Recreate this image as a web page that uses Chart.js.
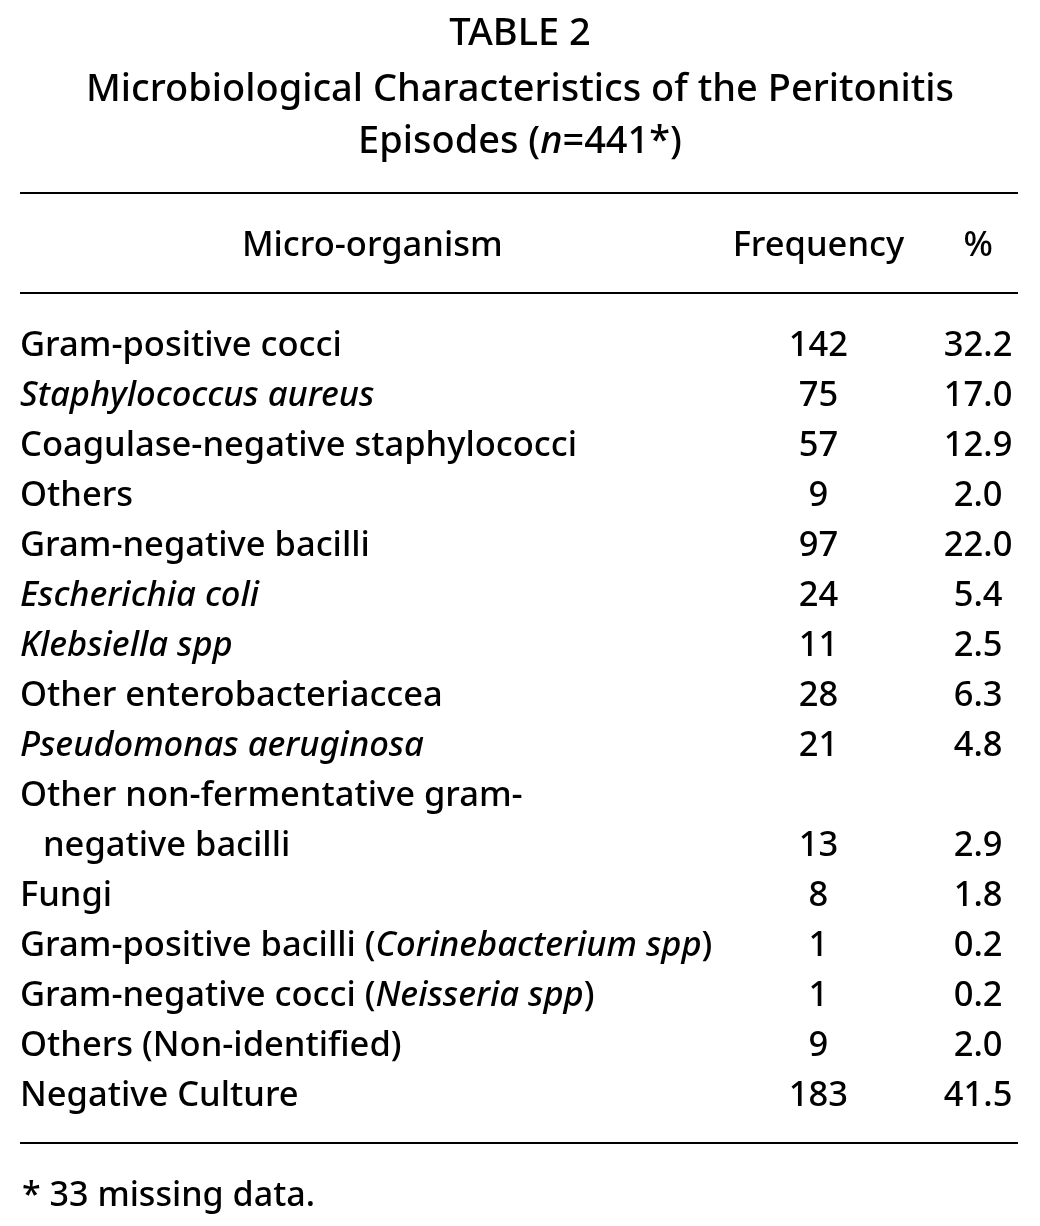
<!DOCTYPE html>
<html><head><meta charset="utf-8">
<script src="https://cdn.jsdelivr.net/npm/chart.js@4/dist/chart.umd.min.js"></script>
<style>html,body{margin:0;padding:0;background:#fff}canvas{display:block}</style>
</head><body>
<canvas id="c" width="1040" height="1226"></canvas>
<script>
const titleLines = ['TABLE 2', 'Microbiological Characteristics of the Peritonitis', 'Episodes (_n_=441*)'];
const columnHeaders = ['Micro-organism', 'Frequency', '%'];
const organisms = [
  'Gram-positive cocci',
  '_Staphylococcus aureus_',
  'Coagulase-negative staphylococci',
  'Others',
  'Gram-negative bacilli',
  '_Escherichia coli_',
  '_Klebsiella spp_',
  'Other enterobacteriaccea',
  '_Pseudomonas aeruginosa_',
  'Other non-fermentative gram-\nnegative bacilli',
  'Fungi',
  'Gram-positive bacilli (_Corinebacterium spp_)',
  'Gram-negative cocci (_Neisseria spp_)',
  'Others (Non-identified)',
  'Negative Culture'
];
const frequency = [142, 75, 57, 9, 97, 24, 11, 28, 21, 13, 8, 1, 1, 9, 183];
const percent = [32.2, 17.0, 12.9, 2.0, 22.0, 5.4, 2.5, 6.3, 4.8, 2.9, 1.8, 0.2, 0.2, 2.0, 41.5];
const footnote = '* 33 missing data.';

// ---- layout (scale units, not data) ----
const COL = { label: 0, indent: 2.3, header: 35.3, freq: 80, pct: 96, center: 50.1 };
const ROW = { titles: [-6.25, -5.13, -4.09], ruleTop: -3.02, header: -2, ruleMid: -1.02, ruleBottom: 15.98, footnote: 17 };
const FAM = '"Noto Sans", "Open Sans", "DejaVu Sans", sans-serif';
const WEIGHT = '500';

// line index of each organism (first line) and of its values (last line)
const firstLine = [], valueLine = [];
(function () {
  let line = 0;
  organisms.forEach(o => {
    const n = o.split('\n').length;
    firstLine.push(line);
    valueLine.push(line + n - 1);
    line += n;
  });
})();
const totalLines = valueLine[valueLine.length - 1] + 1;

function segments(text) {
  return text.split('_').map((t, i) => ({ t, it: i % 2 === 1 })).filter(s => s.t.length);
}
function fontStr(size, it) { return (it ? 'italic ' : '') + WEIGHT + ' ' + size.toFixed(2) + 'px ' + FAM; }
function richWidth(ctx, text, size) {
  let w = 0;
  segments(text).forEach(s => { ctx.font = fontStr(size, s.it); w += ctx.measureText(s.t).width; });
  return w;
}
function drawRich(ctx, text, x, baseline, align, size) {
  const w = richWidth(ctx, text, size);
  let cx = align === 'center' ? x - w / 2 : (align === 'right' ? x - w : x);
  ctx.textAlign = 'left';
  ctx.textBaseline = 'alphabetic';
  segments(text).forEach(s => {
    ctx.font = fontStr(size, s.it);
    ctx.fillText(s.t, cx, baseline);
    cx += ctx.measureText(s.t).width;
  });
}
function fit(ctx, text, target) { return 100 * target / richWidth(ctx, text, 100); }

const tablePlugin = {
  id: 'tableText',
  afterDatasetsDraw(chart) {
    const ctx = chart.ctx, xs = chart.scales.x, ys = chart.scales.y;
    const body = fit(ctx, 'Coagulase-negative staphylococci', 557);
    const title = fit(ctx, titleLines[1], 868);
    const foot = fit(ctx, footnote, 293);
    const cap = 0.357;
    ctx.save();
    ctx.fillStyle = '#000';
    // title
    titleLines.forEach((t, i) => {
      drawRich(ctx, t, xs.getPixelForValue(COL.center), ys.getPixelForValue(ROW.titles[i]) + cap * title, 'center', title);
    });
    // rules
    ctx.strokeStyle = '#000';
    ctx.lineWidth = 2;
    [ROW.ruleTop, ROW.ruleMid, ROW.ruleBottom].forEach(v => {
      const y = Math.round(ys.getPixelForValue(v));
      ctx.beginPath();
      ctx.moveTo(xs.getPixelForValue(0), y);
      ctx.lineTo(xs.getPixelForValue(100), y);
      ctx.stroke();
    });
    // column headers
    const hy = ys.getPixelForValue(ROW.header) + cap * body;
    drawRich(ctx, columnHeaders[0], xs.getPixelForValue(COL.header), hy, 'center', body);
    drawRich(ctx, columnHeaders[1], xs.getPixelForValue(COL.freq), hy, 'center', body);
    drawRich(ctx, columnHeaders[2], xs.getPixelForValue(COL.pct), hy, 'center', body);
    // cells, positioned by the dataset elements
    const mLab = chart.getDatasetMeta(0), mFreq = chart.getDatasetMeta(1), mPct = chart.getDatasetMeta(2);
    mLab.data.forEach((el, i) => {
      organisms[i].split('\n').forEach((ln, k) => {
        const x = k === 0 ? el.x : xs.getPixelForValue(COL.indent);
        const y = ys.getPixelForValue(firstLine[i] + k) + cap * body;
        drawRich(ctx, ln, x, y, 'left', body);
      });
    });
    mFreq.data.forEach((el, i) => drawRich(ctx, String(frequency[i]), el.x, el.y + cap * body, 'center', body));
    mPct.data.forEach((el, i) => drawRich(ctx, percent[i].toFixed(1), el.x, el.y + cap * body, 'center', body));
    // footnote
    drawRich(ctx, footnote, xs.getPixelForValue(0.2), ys.getPixelForValue(ROW.footnote) + cap * foot, 'left', foot);
    ctx.restore();
  }
};

const pointStyle = { pointRadius: 0, pointHoverRadius: 0, showLine: false };
new Chart(document.getElementById('c'), {
  type: 'scatter',
  data: {
    datasets: [
      Object.assign({ label: columnHeaders[0], data: organisms.map((o, i) => ({ x: COL.label, y: firstLine[i] })) }, pointStyle),
      Object.assign({ label: columnHeaders[1], data: frequency.map((v, i) => ({ x: COL.freq, y: valueLine[i] })) }, pointStyle),
      Object.assign({ label: columnHeaders[2], data: percent.map((v, i) => ({ x: COL.pct, y: valueLine[i] })) }, pointStyle)
    ]
  },
  options: {
    responsive: false,
    animation: false,
    devicePixelRatio: 1,
    layout: { padding: { top: 319, bottom: 107, left: 20, right: 22 } },
    plugins: { legend: { display: false }, tooltip: { enabled: false }, title: { display: false } },
    scales: {
      x: { type: 'linear', min: 0, max: 100, display: false },
      y: { type: 'linear', min: -0.5, max: totalLines - 0.5, reverse: true, display: false }
    }
  },
  plugins: [tablePlugin]
});
</script>
</body></html>
